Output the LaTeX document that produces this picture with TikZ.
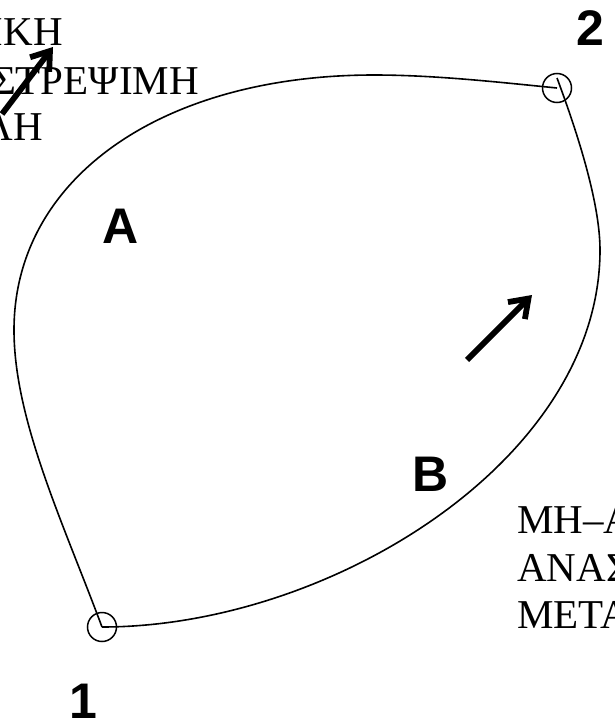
\documentclass[tikz,border=0pt]{standalone}
\usepackage{fontspec}
\setmainfont{Liberation Serif}
\newfontfamily\labfont{Liberation Sans}
\usetikzlibrary{arrows.meta}
\begin{document}
\begin{tikzpicture}[x=1pt,y=-1pt,
  curve/.style={line width=1.6pt, black},
  pointmark/.style={circle, draw, line width=1.5pt, minimum size=29pt, inner sep=0pt},
  biglabel/.style={font=\labfont\bfseries\fontsize{50}{60}\selectfont, inner sep=0pt},
  greek/.style={font=\fontsize{41}{47}\selectfont, inner sep=0pt},
  fatarrow/.style={line width=5.8pt, -{Straight Barb[length=17pt,width=24pt]}}]
\useasboundingbox (0,0) rectangle (614,728);
\clip (0,0) rectangle (614,728);

% state points
\node[pointmark] (p1) at (102,627) {};
\node[pointmark] (p2) at (557,88) {};
\coordinate (lft) at (14,330);
\coordinate (tp) at (374,75);
\coordinate (rgt) at (600,250);
\coordinate (b2) at ([yshift=10pt]p2.center);

% path A
\draw[curve] (p1.center) .. controls (63.5,523.6) and (14,420) .. (lft)
  .. controls (14,178) and (162,75) .. (tp)
  .. controls (434,75) and (497,82) .. (p2.center);
% path B
\draw[curve] (b2) .. controls (574.5,125) and (600,200) .. (rgt)
  .. controls (600,460) and (330,627) .. (p1.center);

% labels
\node[biglabel] (la) at (121,226) {A};
\node[biglabel] (lb) at (431,474) {B};
\node[biglabel] (n1) at (83,701) {1};
\node[biglabel] (n2) at (590,28) {2};

% texts
\node[greek, anchor=base east] (t1) at (63,45) {ΑΔΙΑΒΑΤΙΚΗ};
\node[greek, anchor=base east] (t2) at (199,94) {ΑΝΑΣΤΡΕΨΙΜΗ};
\node[greek, anchor=base east] (t3) at (43,140) {ΜΕΤΑΒΟΛΗ};
\node[greek, anchor=base west] (u1) at (517,533) {ΜΗ–ΑΔΙΑΒΑΤΙΚΗ};
\node[greek, anchor=base west] (u2) at (517,581) {ΑΝΑΣΤΡΕΨΙΜΗ};
\node[greek, anchor=base west] (u3) at (517,628) {ΜΕΤΑΒΟΛΗ};

% arrows
\coordinate (a1s) at (2,114);
\coordinate (a1e) at (53,47);
\coordinate (a2s) at (467,360);
\coordinate (a2e) at (532,295);
\draw[fatarrow] (a1s) -- (a1e);
\draw[fatarrow] (a2s) -- (a2e);
\end{tikzpicture}
\end{document}
